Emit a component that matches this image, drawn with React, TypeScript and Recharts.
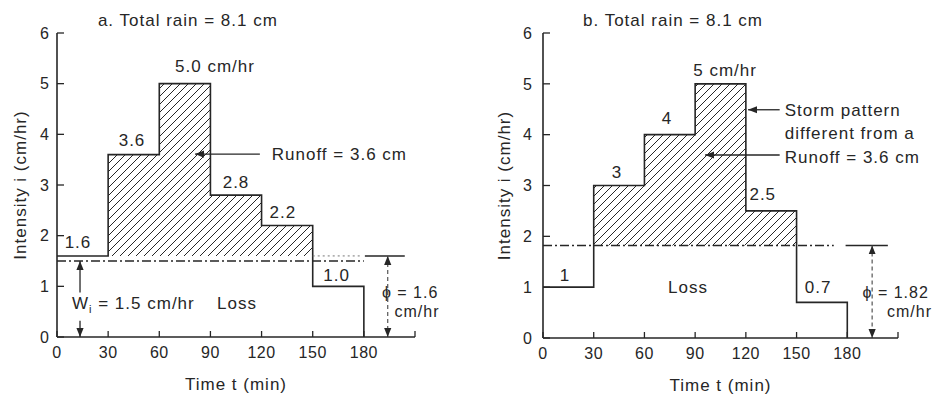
import { ComposedChart, Line, Area, XAxis, YAxis, ReferenceLine, ReferenceDot } from 'recharts';

// time steps (min) and rain intensities (cm/hr) for both storms
const times = [0, 30, 60, 90, 120, 150, 180];
const xTicks = [0, 30, 60, 90, 120, 150, 180, 210];
const yTicks = [0, 1, 2, 3, 4, 5, 6];

const rainA = [1.6, 3.6, 5.0, 2.8, 2.2, 1.0];
const rainB = [1, 3, 4, 5, 2.5, 0.7];

const wiA = 1.5;
const phiA = 1.6;
const phiB = 1.82;

const ink = '#262626';
const font = '"Liberation Sans", Arial, sans-serif';

type Note = { t: number; v: number; text: string; anchor?: 'start' | 'middle' | 'end'; sub?: string; rest?: string; size?: number };

const notesA: Note[] = [
  { t: 24, v: 6.14, text: 'a. Total rain = 8.1 cm', anchor: 'start' },
  { t: 92.7, v: 5.23, text: '5.0 cm/hr' },
  { t: 44, v: 3.77, text: '3.6' },
  { t: 126, v: 3.49, text: 'Runoff = 3.6 cm', anchor: 'start' },
  { t: 105, v: 2.94, text: '2.8' },
  { t: 132.5, v: 2.35, text: '2.2' },
  { t: 12.3, v: 1.76, text: '1.6' },
  { t: 164, v: 1.1, text: '1.0' },
  { t: 8.8, v: 0.55, text: 'W', sub: 'i', rest: ' = 1.5 cm/hr', anchor: 'start' },
  { t: 105.6, v: 0.55, text: 'Loss' },
  { t: 190.6, v: 0.76, text: 'ϕ = 1.6', anchor: 'start', size: 16 },
  { t: 198, v: 0.39, text: 'cm/hr', anchor: 'start', size: 16 },
];

const notesB: Note[] = [
  { t: 23.7, v: 6.14, text: 'b. Total rain = 8.1 cm', anchor: 'start' },
  { t: 107.7, v: 5.15, text: '5 cm/hr' },
  { t: 73.4, v: 4.21, text: '4' },
  { t: 43.8, v: 3.15, text: '3' },
  { t: 143, v: 4.37, text: 'Storm pattern', anchor: 'start' },
  { t: 143, v: 3.92, text: 'different from a', anchor: 'start' },
  { t: 143, v: 3.44, text: 'Runoff = 3.6 cm', anchor: 'start' },
  { t: 130, v: 2.71, text: '2.5' },
  { t: 13, v: 1.12, text: '1' },
  { t: 85.8, v: 0.89, text: 'Loss' },
  { t: 162.7, v: 0.89, text: '0.7' },
  { t: 189, v: 0.78, text: 'ϕ = 1.82', anchor: 'start', size: 16 },
  { t: 203.5, v: 0.41, text: 'cm/hr', anchor: 'start', size: 16 },
];

// [t1, v1, t2, v2, style]; arrow head sits at the second point
type Seg = [number, number, number, number, 'dashdot' | 'dot' | 'solid' | 'arrow' | 'both'];

const segsA: Seg[] = [
  [0, wiA, 180, wiA, 'dashdot'],
  [150, phiA, 178, phiA, 'dot'],
  [180.6, phiA, 204, phiA, 'solid'],
  [119, 3.61, 81, 3.61, 'arrow'],
  [13.5, 0.88, 13.5, wiA, 'arrow'],
  [13.5, 0.32, 13.5, 0, 'arrow'],
  [194, phiA, 194, 0, 'both'],
];

const segsB: Seg[] = [
  [0, phiB, 172, phiB, 'dashdot'],
  [179, phiB, 204, phiB, 'solid'],
  [140, 4.49, 121.3, 4.49, 'arrow'],
  [140, 3.6, 95.9, 3.6, 'arrow'],
  [194.7, phiB, 194.7, 0, 'both'],
];

const buildRows = (rain: number[], phi: number) => {
  const rows: any[] = rain.map((v, k) => {
    const prev = k > 0 ? rain[k - 1] : 0;
    const band = v > phi ? [phi, v] : prev > phi ? [phi, prev] : null;
    return { t: times[k], i: v, band };
  });
  rows.push({ t: times[6], i: rain[5], band: null });
  rows.push({ t: times[6], i: 0, band: null });
  return rows;
};

const textStyle = { fontFamily: font, fontSize: 17, letterSpacing: 1, fill: ink };

const makeXTick = (m: number) => (p: any) => {
  const { x, y, payload } = p;
  return (
    <g>
      <line x1={x} x2={x} y1={y - m} y2={y - m - 6} stroke={ink} strokeWidth={1.3} />
      {payload.value <= 180 && (
        <text x={x} y={y} dy="0.71em" textAnchor="middle" style={{ ...textStyle, fontSize: 16, letterSpacing: 0.5 }}>
          {payload.value}
        </text>
      )}
    </g>
  );
};

const makeYTick = (m: number) => (p: any) => {
  const { x, y, payload } = p;
  return (
    <g>
      <line x1={x + m} x2={x + m + 7} y1={y} y2={y} stroke={ink} strokeWidth={1.3} />
      <text x={x} y={y} dy="0.355em" textAnchor="end" style={{ ...textStyle, fontSize: 16 }}>
        {payload.value}
      </text>
    </g>
  );
};

const segShape = (kind: Seg[4]) => (p: any) => {
  const common = { x1: p.x1, y1: p.y1, x2: p.x2, y2: p.y2, stroke: ink, fill: 'none' };
  if (kind === 'dashdot') return <line {...common} strokeWidth={1.3} strokeDasharray="9 3 2 3" />;
  if (kind === 'dot') return <line {...common} stroke="#777" strokeWidth={1} strokeDasharray="2 3" />;
  if (kind === 'solid') return <line {...common} strokeWidth={1.5} />;
  if (kind === 'both')
    return (
      <line {...common} stroke="#555" strokeWidth={1.2} strokeDasharray="4 3"
        markerStart="url(#arrowHead)" markerEnd="url(#arrowHead)" />
    );
  return <line {...common} strokeWidth={1.3} markerEnd="url(#arrowHead)" />;
};

const noteShape = (n: Note) => (p: any) => (
  <text x={p.cx} y={p.cy} textAnchor={n.anchor || 'middle'} style={{ ...textStyle, fontSize: n.size || 17 }}>
    {n.text}
    {n.sub && (
      <tspan dy={4} style={{ fontSize: 11 }}>
        {n.sub}
      </tspan>
    )}
    {n.rest && <tspan dy={-4}>{n.rest}</tspan>}
  </text>
);

type PanelProps = {
  rain: number[];
  phi: number;
  notes: Note[];
  segs: Seg[];
  left: number;
  width: number;
  yw: number;
  right: number;
  bottom: number;
  tickGap: number;
  labelDx: number;
};

const Panel = ({ rain, phi, notes, segs, left, width, yw, right, bottom, tickGap, labelDx }: PanelProps) => {
  const rows = buildRows(rain, phi);
  return (
    <div style={{ position: 'absolute', left, top: 0 }}>
      <ComposedChart width={width} height={398} data={rows} margin={{ top: 33, right, bottom, left: 0 }}>
        <XAxis
          dataKey="t"
          type="number"
          domain={[0, 210]}
          ticks={xTicks}
          interval={0}
          tickSize={0}
          tickMargin={10}
          tick={makeXTick(10)}
          axisLine={{ stroke: ink, strokeWidth: 1.6 }}
          height={55}
          label={{ value: 'Time t (min)', position: 'insideBottom', offset: 2, style: textStyle }}
        />
        <YAxis
          type="number"
          domain={[0, 6]}
          ticks={yTicks}
          interval={0}
          width={yw}
          tickSize={0}
          tickMargin={tickGap}
          tick={makeYTick(tickGap)}
          axisLine={{ stroke: ink, strokeWidth: 1.6 }}
          label={{ value: 'Intensity i (cm/hr)', angle: -90, position: 'center', dx: labelDx, style: { ...textStyle, textAnchor: 'middle' } }}
        />
        <Area
          dataKey="band"
          type="stepAfter"
          stroke="none"
          fill="url(#hatch)"
          fillOpacity={1}
          isAnimationActive={false}
          dot={false}
          activeDot={false}
        />
        <Line
          dataKey="i"
          type="stepAfter"
          stroke={ink}
          strokeWidth={1.6}
          dot={false}
          activeDot={false}
          isAnimationActive={false}
        />
        {segs.map((s, k) => (
          <ReferenceLine
            key={'s' + k}
            segment={[{ x: s[0], y: s[1] }, { x: s[2], y: s[3] }]}
            ifOverflow="visible"
            shape={segShape(s[4])}
          />
        ))}
        {notes.map((n, k) => (
          <ReferenceDot key={'n' + k} x={n.t} y={n.v} r={0} ifOverflow="visible" shape={noteShape(n)} />
        ))}
      </ComposedChart>
    </div>
  );
};

const App = () => {
  return (
    <div style={{ position: 'absolute', left: 0, top: 0, width: 937, height: 398, background: '#fff' }}>
      <svg width={0} height={0} style={{ position: 'absolute' }}>
        <defs>
          <pattern id="hatch" patternUnits="userSpaceOnUse" width={8} height={8}>
            <path d="M-2,2 L2,-2 M0,8 L8,0 M6,10 L10,6" stroke={ink} strokeWidth={1} />
          </pattern>
          <marker id="arrowHead" viewBox="0 0 10 10" refX={10} refY={5} markerWidth={9} markerHeight={9}
            markerUnits="userSpaceOnUse" orient="auto-start-reverse">
            <path d="M0,1 L10,5 L0,9 z" fill={ink} />
          </marker>
        </defs>
      </svg>
      <Panel rain={rainA} phi={phiA} notes={notesA} segs={segsA} left={0} width={468} yw={57} right={53} bottom={6} tickGap={7} labelDx={-8.5} />
      <Panel rain={rainB} phi={phiB} notes={notesB} segs={segsB} left={470} width={467} yw={73} right={39} bottom={5} tickGap={10} labelDx={-2.5} />
    </div>
  );
};

export default App;
